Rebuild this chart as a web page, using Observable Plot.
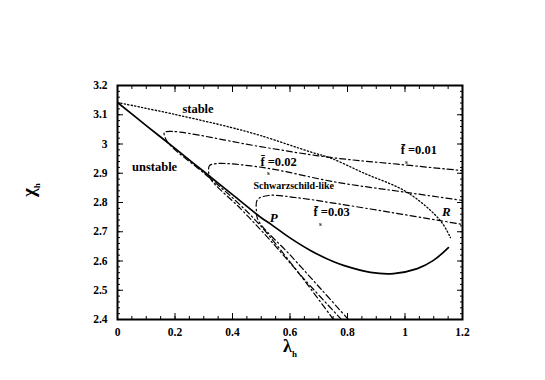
<!DOCTYPE html>
<html>
<head>
<meta charset="utf-8">
<script src="https://cdn.jsdelivr.net/npm/d3@7"></script>
<script src="https://cdn.jsdelivr.net/npm/@observablehq/plot@0.6"></script>
<style>
  html, body { margin: 0; padding: 0; background: #fff; }
  #chart { width: 545px; height: 380px; }
</style>
</head>
<body>
<div id="chart"></div>
<script>
// ---- data ----
const solidLambda = [0, 0.1, 0.2, 0.3, 0.4, 0.5, 0.532, 0.6, 0.671, 0.75, 0.786, 0.88, 0.96, 1.043, 1.099, 1.151];
const solidChi    = [3.142, 3.063, 2.985, 2.906, 2.827, 2.748, 2.727, 2.679, 2.636, 2.598, 2.585, 2.561, 2.557, 2.574, 2.602, 2.646];

const stableLambda = [0, 0.2, 0.393, 0.497, 0.671, 0.741, 0.856, 1.009, 1.123, 1.158];
const stableChi    = [3.142, 3.101, 3.057, 3.029, 2.973, 2.952, 2.901, 2.834, 2.738, 2.680];

const f01Lambda = [0.751, 0.637, 0.497, 0.410, 0.306, 0.184, 0.167, 0.163, 0.191, 0.497, 0.741, 0.974, 1.2];
const f01Chi    = [2.400, 2.550, 2.721, 2.807, 2.896, 2.995, 3.019, 3.039, 3.043, 2.991, 2.954, 2.931, 2.909];

const f02Lambda = [0.779, 0.654, 0.532, 0.428, 0.323, 0.317, 0.320, 0.344, 0.504, 0.758, 1.009, 1.2];
const f02Chi    = [2.400, 2.533, 2.670, 2.779, 2.882, 2.909, 2.926, 2.933, 2.920, 2.870, 2.834, 2.807];

const f03Lambda = [0.803, 0.706, 0.602, 0.490, 0.483, 0.487, 0.525, 0.619, 0.758, 0.940, 1.123, 1.2];
const f03Chi    = [2.400, 2.506, 2.619, 2.738, 2.773, 2.810, 2.824, 2.817, 2.797, 2.768, 2.738, 2.725];

const xTicks = [0, 0.2, 0.4, 0.6, 0.8, 1, 1.2];
const xTickLabels = ["0", "0.2", "0.4", "0.6", "0.8", "1", "1.2"];
const yTicks = [2.4, 2.5, 2.6, 2.7, 2.8, 2.9, 3, 3.1, 3.2];
const yTickLabels = ["2.4", "2.5", "2.6", "2.7", "2.8", "2.9", "3", "3.1", "3.2"];

const regionLabels = [
  {text: "stable", x: 0.28, y: 3.118},
  {text: "unstable", x: 0.129, y: 2.923}
];
const curveLabels = [
  {text: "f\u0304 =0.01", x: 0.985, y: 2.978},
  {text: "f\u0304 =0.02", x: 0.497, y: 2.940},
  {text: "f\u0304 =0.03", x: 0.682, y: 2.766}
];
const schwLabel = [{text: "Schwarzschild-like", x: 0.473, y: 2.858}];
const pointLabels = [
  {text: "P", x: 0.543, y: 2.749},
  {text: "R", x: 1.144, y: 2.769}
];
const subscripts = [
  {text: "s", x: 1.005, y: 2.940},
  {text: "s", x: 0.525, y: 2.903},
  {text: "s", x: 0.706, y: 2.726}
];

const toRows = (xs, ys) => xs.map((x, i) => ({x, y: ys[i]}));
const serif = "'Liberation Serif', 'Times New Roman', serif";
const xMinor = d3.range(0, 1.2001, 0.05).map(v => +v.toFixed(2));
const yMinor = d3.range(2.4, 3.2001, 0.02).map(v => +v.toFixed(2));
const blank = () => "";

const lineStyle = {x: "x", y: "y", stroke: "black", clip: true, curve: "catmull-rom"};
const dashDot = "6,3,1.5,3";
const textBase = {x: "x", y: "y", text: "text", fontWeight: "bold", fill: "black", fontFamily: serif};

const plot = Plot.plot({
  width: 545,
  height: 380,
  marginLeft: 117,
  marginRight: 83,
  marginTop: 85,
  marginBottom: 61,
  style: {fontFamily: serif, background: "white"},
  x: {domain: [0, 1.2]},
  y: {domain: [2.4, 3.2]},
  marks: [
    Plot.line(toRows(solidLambda, solidChi), {...lineStyle, strokeWidth: 1.7}),
    Plot.line(toRows(stableLambda, stableChi), {...lineStyle, strokeWidth: 1.3, strokeDasharray: "1.3,2.2"}),
    Plot.line(toRows(f01Lambda, f01Chi), {...lineStyle, strokeWidth: 1.2, strokeDasharray: dashDot}),
    Plot.line(toRows(f02Lambda, f02Chi), {...lineStyle, strokeWidth: 1.2, strokeDasharray: dashDot}),
    Plot.line(toRows(f03Lambda, f03Chi), {...lineStyle, strokeWidth: 1.2, strokeDasharray: dashDot}),
    Plot.text(regionLabels, {...textBase, fontSize: 12.5, textAnchor: "middle"}),
    Plot.text(curveLabels, {...textBase, fontSize: 12.5, textAnchor: "start"}),
    Plot.text(schwLabel, {...textBase, fontSize: 10, textAnchor: "start"}),
    Plot.text(pointLabels, {...textBase, fontSize: 13, fontStyle: "italic", textAnchor: "middle"}),
    Plot.text(subscripts, {...textBase, fontSize: 7, textAnchor: "middle"}),
    // axes with inward ticks
    Plot.axisX({anchor: "bottom", ticks: xTicks, tickFormat: d => xTickLabels[xTicks.indexOf(d)], tickSize: -6, tickPadding: 14, fontSize: 11.5, fontWeight: "bold", label: null}),
    Plot.axisX({anchor: "bottom", ticks: xMinor, tickFormat: blank, tickSize: -3, label: null}),
    Plot.axisX({anchor: "top", ticks: xTicks, tickFormat: blank, tickSize: -6, label: null}),
    Plot.axisX({anchor: "top", ticks: xMinor, tickFormat: blank, tickSize: -3, label: null}),
    Plot.axisY({anchor: "left", ticks: yTicks, tickFormat: d => yTickLabels[yTicks.indexOf(d)], tickSize: -6, tickPadding: 16, fontSize: 11.5, fontWeight: "bold", label: null}),
    Plot.axisY({anchor: "left", ticks: yMinor, tickFormat: blank, tickSize: -3, label: null}),
    Plot.axisY({anchor: "right", ticks: yTicks, tickFormat: blank, tickSize: -6, label: null}),
    Plot.axisY({anchor: "right", ticks: yMinor, tickFormat: blank, tickSize: -3, label: null}),
    Plot.frame({stroke: "black", strokeWidth: 2})
  ]
});

// axis titles with subscripts
const svg = d3.select(plot);
const xt = svg.append("text")
  .attr("x", 290).attr("y", 352)
  .attr("text-anchor", "middle")
  .attr("font-family", serif).attr("font-weight", "bold").attr("font-size", 18).attr("fill", "black");
xt.append("tspan").text("\u03bb");
xt.append("tspan").attr("font-size", 9).attr("dy", 5).text("h");

const yt = svg.append("text")
  .attr("transform", "translate(35,190) rotate(-90)")
  .attr("text-anchor", "middle")
  .attr("font-family", serif).attr("font-weight", "bold").attr("font-size", 19).attr("fill", "black");
yt.append("tspan").text("\u03c7");
yt.append("tspan").attr("font-size", 9).attr("dy", 5).text("h");

document.getElementById("chart").appendChild(plot);
</script>
</body>
</html>
